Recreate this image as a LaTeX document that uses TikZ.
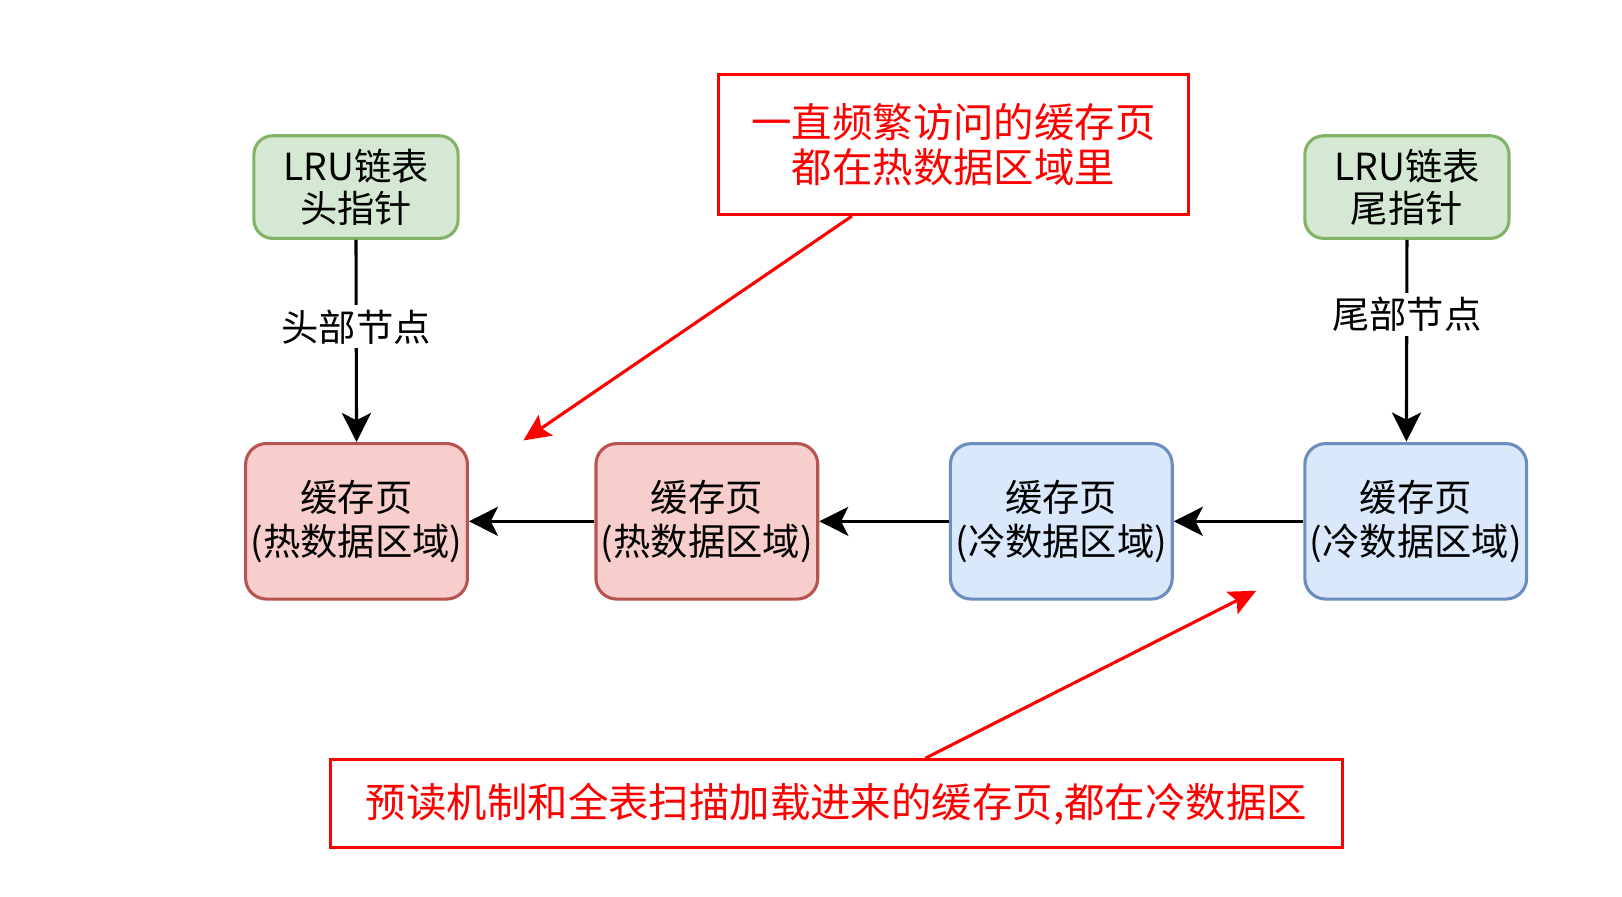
\documentclass[tikz,border=0pt]{standalone}
\usepackage{fontspec}
\setmainfont{Noto Sans CJK SC}
\usetikzlibrary{arrows.meta,calc}
\definecolor{gfill}{HTML}{D5E8D4}
\definecolor{gdraw}{HTML}{82B366}
\definecolor{pfill}{HTML}{F8CECC}
\definecolor{pdraw}{HTML}{B85450}
\definecolor{bfill}{HTML}{DAE8FC}
\definecolor{bdraw}{HTML}{6C8EBF}
\definecolor{redc}{HTML}{FF0000}
\begin{document}
\begin{tikzpicture}[x=1pt,y=-1pt,
  pagebox/.style={rounded corners=20pt, line width=3pt, minimum width=214pt, minimum height=150pt,
    align=center, inner sep=0pt, font=\fontsize{36}{43}\selectfont},
  hotbox/.style={pagebox, fill=pfill, draw=pdraw},
  coldbox/.style={pagebox, fill=bfill, draw=bdraw},
  ptrbox/.style={rounded corners=18pt, line width=3pt, minimum width=197pt, minimum height=99pt,
    align=center, inner sep=0pt, fill=gfill, draw=gdraw, font=\fontsize{36}{40}\selectfont},
  notebox/.style={draw=redc, line width=3pt, align=center, inner sep=0pt, text=redc,
    font=\fontsize{39}{44}\selectfont},
  arr/.style={line width=3pt, -{Stealth[length=28pt,width=28pt,inset=7pt]}},
  redarr/.style={draw=redc, line width=3pt, -{Stealth[length=26pt,width=24pt,inset=5pt]}, color=redc},
  lbl/.style={fill=white, inner sep=4pt, font=\fontsize{36}{40}\selectfont}
]
\useasboundingbox (0,0) rectangle (1565,865);

\node[ptrbox] (g1) at (343.5,180.5) {LRU链表\\头指针};
\node[ptrbox] (g2) at (1357.5,180.5) {LRU链表\\尾指针};

\node[hotbox] (p1) at (344,503) {缓存页\\(热数据区域)};
\node[hotbox] (p2) at (682,503) {缓存页\\(热数据区域)};
\node[coldbox] (c1) at (1024,503) {缓存页\\(冷数据区域)};
\node[coldbox] (c2) at (1366,503) {缓存页\\(冷数据区域)};

\node[notebox, minimum width=454pt, minimum height=135pt] (rt) at (920,139.5) {一直频繁访问的缓存页\\都在热数据区域里};
\node[notebox, minimum width=976pt, minimum height=85pt] (rb) at (807,775.5) {预读机制和全表扫描加载进来的缓存页,都在冷数据区};

\coordinate (tailtip) at (1357,426);
\coordinate (hottip) at (505,425);
\coordinate (coldtip) at (1212,570);

\draw[arr] (g1.south) -- node[lbl, pos=0.43] (l1) {头部节点} (p1.north);
\draw[arr] (g2.south) -- node[lbl, pos=0.37] (l2) {尾部节点} (tailtip);

\draw[arr] (p2.west) -- (p1.east);
\draw[arr] (c1.west) -- (p2.east);
\draw[arr] (c2.west) -- (c1.east);

\draw[redarr] ($(rt.south)+(-98,0)$) -- (hottip);
\draw[redarr] ($(rb.north)+(86,0)$) -- (coldtip);
\end{tikzpicture}
\end{document}
